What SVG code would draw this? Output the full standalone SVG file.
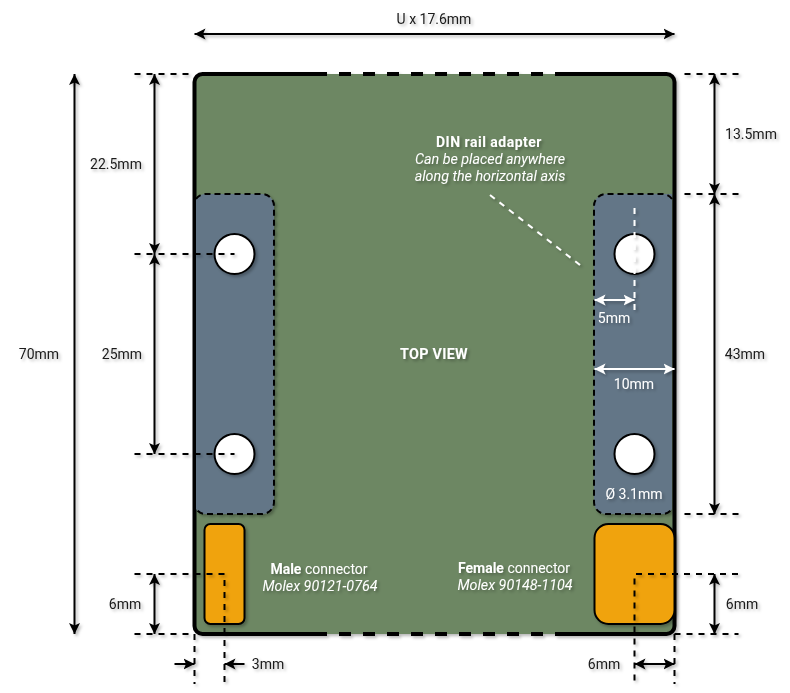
<svg xmlns="http://www.w3.org/2000/svg" width="790" height="693" viewBox="0 0 790 693">
<style>
text{font-family:Roboto,"Noto Sans",sans-serif;font-size:14px;text-anchor:middle;fill:#1a1a1a}
.w{fill:#fff}
.b{font-weight:700}
.i{font-style:italic;font-size:14.300px}
.m{font-style:italic;font-size:14.300px}
.t{font-size:14.400px;letter-spacing:.25px}
.h{letter-spacing:.5px}
.dim{fill:none;stroke:#000;stroke-width:2}
.dimw{fill:none;stroke:#fff;stroke-width:2}
.dash{fill:none;stroke:#000;stroke-width:2;stroke-dasharray:6 6}
.dashw{fill:none;stroke:#fff;stroke-width:2;stroke-dasharray:6 6}
.hole{fill:#fff;stroke:#000;stroke-width:2}
.zone{fill:none;stroke:#000;stroke-width:2;stroke-dasharray:6 4}
.conn{fill:#f0a30a;stroke:#000;stroke-width:2}
.sh{filter:url(#s)}
</style>
<defs>
<filter id="s" x="-30%" y="-30%" width="160%" height="160%"><feDropShadow dx="2" dy="2" stdDeviation="1.6" flood-color="#000" flood-opacity=".28"/></filter>
<marker id="a" viewBox="0 0 11 12" refX="11" refY="6" markerWidth="11" markerHeight="12" markerUnits="userSpaceOnUse" orient="auto-start-reverse"><path d="M0 .5L11 6L0 11.500L2.500 6Z" fill="#000"/></marker>
<marker id="aw" viewBox="0 0 11 12" refX="11" refY="6" markerWidth="11" markerHeight="12" markerUnits="userSpaceOnUse" orient="auto-start-reverse"><path d="M0 .5L11 6L0 11.500L2.500 6Z" fill="#fff"/></marker>
</defs>
<g id="board" class="sh">
<rect x="194.500" y="74" width="480" height="560" rx="8" fill="#6d8764"/>
<path d="M315 74H202.500a8 8 0 0 0-8 8V626a8 8 0 0 0 8 8H315M555 74H666.500a8 8 0 0 1 8 8V626a8 8 0 0 1-8 8H555" fill="none" stroke="#000" stroke-width="4"/>
<path d="M315 74H555M315 634H555" fill="none" stroke="#000" stroke-width="4" stroke-dasharray="12 12"/>
</g>
<g id="zone-left" class="sh"><path d="M196 514H262a12 12 0 0 0 12-12V206a12 12 0 0 0-12-12H206a12 12 0 0 0-10 5V509a12 12 0 0 0 10 5Z" fill="#647687"/><path class="zone" d="M196 199a12 12 0 0 1 10-5H262a12 12 0 0 1 12 12V502a12 12 0 0 1-12 12H206a12 12 0 0 1-10-5" /></g>
<g id="zone-right" class="sh"><path d="M672 194H606a12 12 0 0 0-12 12V502a12 12 0 0 0 12 12H662a12 12 0 0 0 10-5Z" fill="#647687"/><path class="zone" d="M672 199a12 12 0 0 0-10-5H606a12 12 0 0 0-12 12V502a12 12 0 0 0 12 12H662a12 12 0 0 0 10-5"/></g>
<g id="hole-1" class="sh"><circle class="hole" cx="234.500" cy="254" r="20"/></g>
<g id="hole-2" class="sh"><circle class="hole" cx="234.500" cy="454" r="20"/></g>
<g id="hole-3" class="sh"><circle class="hole" cx="634.500" cy="254" r="20"/></g>
<g id="hole-4" class="sh"><circle class="hole" cx="634.500" cy="454" r="20"/></g>
<g id="male-connector" class="sh"><rect class="conn" x="204.500" y="524" width="40" height="100" rx="6"/></g>
<g id="female-connector" class="sh"><rect class="conn" x="594.500" y="524" width="80" height="100" rx="14"/></g>
<g id="connectors" class="sh">
<path class="dim" marker-start="url(#a)" marker-end="url(#a)" d="M194.500 34H674.500"/>
<path class="dim" marker-start="url(#a)" marker-end="url(#a)" d="M74.500 74V634"/>
<path class="dim" marker-start="url(#a)" marker-end="url(#a)" d="M154.500 74V254"/>
<path class="dim" marker-start="url(#a)" marker-end="url(#a)" d="M154.500 254V454"/>
<path class="dim" marker-start="url(#a)" marker-end="url(#a)" d="M154.500 574V634"/>
<path class="dim" marker-start="url(#a)" marker-end="url(#a)" d="M714.500 74V194"/>
<path class="dim" marker-start="url(#a)" marker-end="url(#a)" d="M714.500 194V514"/>
<path class="dim" marker-start="url(#a)" marker-end="url(#a)" d="M714.500 574V634"/>
<path class="dim" marker-end="url(#a)" d="M174.500 664H194.500"/>
<path class="dim" marker-end="url(#a)" d="M244.500 664H224.500"/>
<path class="dim" marker-start="url(#a)" marker-end="url(#a)" d="M634.500 664H674.500"/>
<path class="dash" d="M134.500 74H194.500"/>
<path class="dash" d="M134.500 254H234.500"/>
<path class="dash" d="M134.500 454H234.500"/>
<path class="dash" d="M134.500 574H224.500V684"/>
<path class="dash" d="M134.500 634H194.500"/>
<path class="dash" d="M194.500 634V684"/>
<path class="dash" d="M684.500 74H738.500"/>
<path class="dash" d="M684.500 194H738.500"/>
<path class="dash" d="M684.500 514H738.500"/>
<path class="dash" d="M738 574H634.500V684"/>
<path class="dash" d="M674.500 634H738.500"/>
<path class="dash" d="M674.500 634V684"/>
<path class="dashw" d="M634.500 208V310"/>
<path class="dashw" d="M490 195L580 265"/>
<path class="dimw" marker-start="url(#aw)" marker-end="url(#aw)" d="M594.500 300H634.500"/>
<path class="dimw" marker-start="url(#aw)" marker-end="url(#aw)" d="M594.500 369H674.500"/>
</g>
<g id="labels" class="sh">
<text x="434" y="24">U x 17.6mm</text>
<text x="39" y="359">70mm</text>
<text x="116" y="169">22.5mm</text>
<text x="122" y="359">25mm</text>
<text x="125" y="609">6mm</text>
<text x="751" y="139">13.5mm</text>
<text x="745" y="359">43mm</text>
<text x="742" y="609">6mm</text>
<text x="268" y="669">3mm</text>
<text x="604" y="669">6mm</text>
<text class="w" x="614" y="323">5mm</text>
<text class="w" x="634" y="389">10mm</text>
<text class="w" x="634" y="499">Ø 3.1mm</text>
<text class="w b t" x="434" y="359">TOP VIEW</text>
<text class="w b h" x="489" y="147">DIN rail adapter</text>
<text class="w i" x="490" y="164">Can be placed anywhere</text>
<text class="w i" x="490" y="181">along the horizontal axis</text>
<text class="w" x="319" y="574"><tspan class="b">Male</tspan> connector</text>
<text class="w m" x="320" y="591">Molex 90121-0764</text>
<text class="w" x="514" y="573"><tspan class="b">Female</tspan> connector</text>
<text class="w m" x="515" y="590">Molex 90148-1104</text>
</g>
</svg>
